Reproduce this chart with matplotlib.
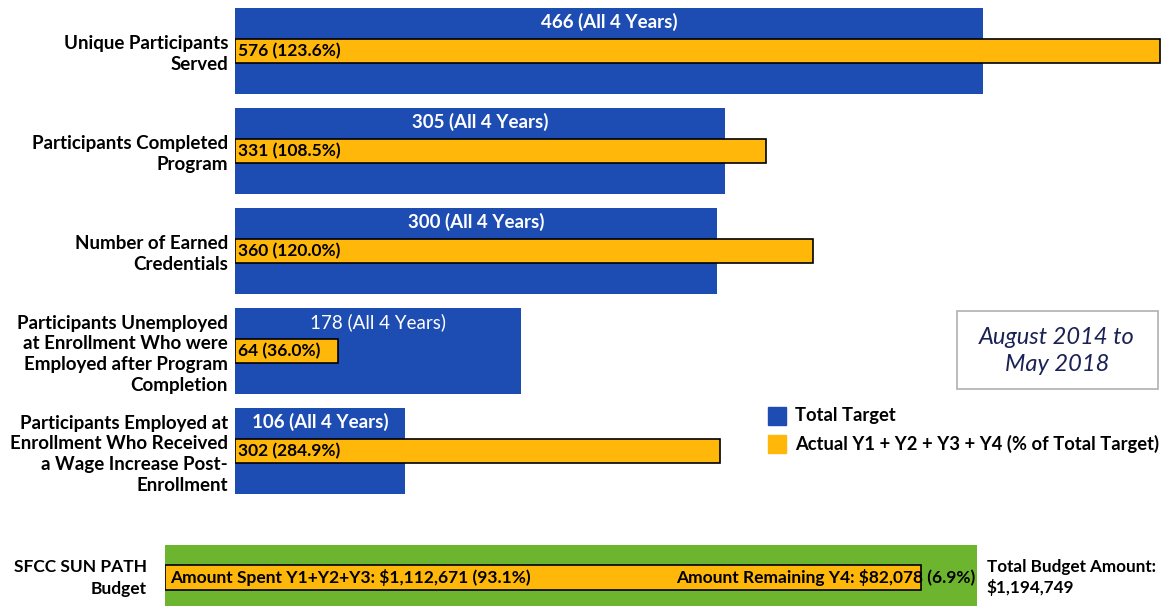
import matplotlib
matplotlib.use("Agg")
import matplotlib.pyplot as plt
from matplotlib.patches import Rectangle

plt.rcParams['font.family'] = ['Lato', 'DejaVu Sans']

# data
categories = [
    "Unique Participants\nServed",
    "Participants Completed\nProgram",
    "Number of Earned\nCredentials",
    "Participants Unemployed\nat Enrollment Who were\nEmployed after Program\nCompletion",
    "Participants Employed at\nEnrollment Who Received\na Wage Increase Post-\nEnrollment",
]
total_target = [466, 305, 300, 178, 106]
actual = [576, 331, 360, 64, 302]
actual_pct = [123.6, 108.5, 120.0, 36.0, 284.9]

budget_total = 1194749
budget_spent = 1112671
budget_remaining = 82078
spent_pct = 93.1
remaining_pct = 6.9

BLUE = "#1d4db3"
ORANGE = "#ffb80a"
GREEN = "#6db52f"

W, H = 1163, 606
fig = plt.figure(figsize=(W / 100, H / 100), dpi=100)


def px_axes(x0, y0, x1, y1):
    # axes from pixel box (top-left origin)
    return fig.add_axes([x0 / W, 1 - y1 / H, (x1 - x0) / W, (y1 - y0) / H])


# main bar chart
ax = px_axes(235, 0, W, 510)
ypos = list(range(len(categories)))
ax.barh(ypos, total_target, height=0.86, color=BLUE, zorder=1)
ax.barh(ypos, actual, height=0.24, color=ORANGE, edgecolor="black",
        linewidth=1.2, zorder=2)
ax.set_xlim(0, 578.1)
ax.set_ylim(4.59, -0.51)

for i, (t, a, p) in enumerate(zip(total_target, actual, actual_pct)):
    ax.text(t / 2, i - 0.29, f"{t} (All 4 Years)", color="white",
            fontsize=13.5,
            fontweight="normal" if t == 178 else "bold",
            ha="center", va="center", zorder=3)
    ax.text(2, i, f"{a} ({p:.1f}%)", color="black", fontsize=12.5,
            fontweight="bold", ha="left", va="center", zorder=3)

ax.set_yticks(ypos)
ax.set_yticklabels(categories, fontsize=13.5, fontweight="bold",
                   linespacing=1.27)
ax.tick_params(axis="y", length=0, pad=5)
ax.set_xticks([])
for s in ax.spines.values():
    s.set_visible(False)

# legend
fig.patches.append(Rectangle((768 / W, 1 - 425 / H), 18 / W, 18 / H,
                             transform=fig.transFigure, color=BLUE))
fig.patches.append(Rectangle((768 / W, 1 - 453 / H), 18 / W, 18 / H,
                             transform=fig.transFigure, color=ORANGE))
fig.text(795 / W, 1 - 416 / H, "Total Target", fontsize=13.2,
         fontweight="bold", va="center")
fig.text(795 / W, 1 - 444 / H, "Actual Y1 + Y2 + Y3 + Y4 (% of Total Target)",
         fontsize=13.2, fontweight="bold", va="center")

# date box
fig.patches.append(Rectangle((957 / W, 1 - 389 / H), 201 / W, 78 / H,
                             transform=fig.transFigure, facecolor="white",
                             edgecolor="#b0b0b0", linewidth=1.2))
fig.text(1057 / W, 1 - 351 / H, "August 2014 to\nMay 2018", fontsize=17,
         style="italic", color="#1a2255", ha="center", va="center",
         linespacing=1.3)

# budget bar
bx = px_axes(165, 540, W, H)
bx.barh(0, budget_total, height=2.6, color=GREEN, zorder=1)
bx.barh(0, budget_spent, height=1.0, color=ORANGE, edgecolor="black",
        linewidth=1.2, zorder=2)
bx.set_xlim(0, budget_total * (W - 165) / 812)
bx.set_ylim(1.14, -1.5)
bx.axis("off")
bx.text(budget_total * 0.006, 0,
        f"Amount Spent Y1+Y2+Y3: ${budget_spent:,} ({spent_pct}%)",
        fontsize=12.5, fontweight="bold", ha="left", va="center", zorder=3)
bx.text(budget_total * 0.998, 0,
        f"Amount Remaining Y4: ${budget_remaining:,} ({remaining_pct}%)",
        fontsize=12.5, fontweight="bold", ha="right", va="center", zorder=3)
bx.text(budget_total * 1.012, 0,
        f"Total Budget Amount:\n${budget_total:,}",
        fontsize=12.3, fontweight="bold", ha="left", va="center",
        linespacing=1.35, zorder=3)
fig.text(147 / W, 1 - 578 / H, "SFCC SUN PATH\nBudget", fontsize=12.5,
         fontweight="bold", ha="right", va="center", linespacing=1.4)

fig.savefig("out.png", dpi=100)
